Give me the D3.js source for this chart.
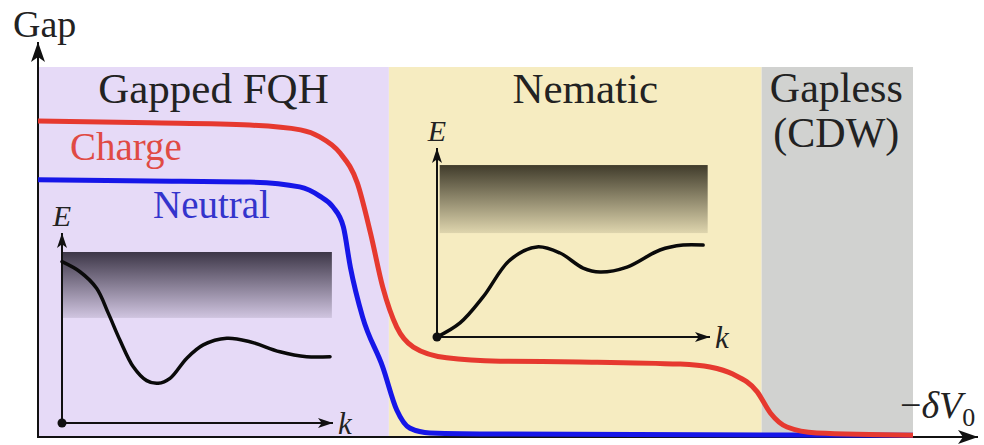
<!DOCTYPE html>
<html>
<head>
<meta charset="utf-8">
<script src="https://cdn.jsdelivr.net/npm/d3@7"></script>
<style>
  body { margin: 0; background: #fff; }
  svg { display: block; }
</style>
</head>
<body>
<svg id="chart" width="984" height="445"></svg>
<script>
// ---- data ----
var regionNames = ["Gapped FQH", "Nematic", "Gapless"];
var regionStart = [0, 40.1, 82.7];
var regionEnd   = [40.1, 82.7, 100];

var chargeX   = [0, 12.8, 24.2, 30.0, 32.2, 34.5, 36.5, 38.0, 39.4, 41.0, 42.9, 46.7, 52.8, 61.9, 73.4, 76.8, 79.4, 82.2, 83.7, 85.6, 89.0, 100];
var chargeGap = [8.54, 8.49, 8.43, 8.30, 8.11, 7.68, 6.86, 5.51, 4.05, 2.97, 2.43, 2.14, 2.05, 2.03, 1.97, 1.89, 1.70, 1.22, 0.65, 0.27, 0.11, 0.05];

var neutralX   = [0, 12.8, 24.2, 29.9, 32.2, 33.7, 34.9, 35.7, 37.1, 39.4, 41.0, 42.5, 44.8, 52.8, 100];
var neutralGap = [6.95, 6.92, 6.89, 6.76, 6.51, 6.22, 5.68, 4.59, 3.24, 1.89, 0.73, 0.24, 0.11, 0.08, 0.05];

// inset dispersions E(k)
var fqhK = [0, 0.67, 1.29, 1.73, 2.16, 2.66, 3.16, 3.59, 4.03, 4.65, 5.27, 6.15, 7.01, 8.13, 9.13, 10];
var fqhE = [8.49, 7.96, 7.09, 5.77, 4.37, 2.96, 2.23, 2.09, 2.35, 3.40, 4.11, 4.46, 4.28, 3.75, 3.49, 3.49];
var fqhBand = [5.53, 9.0];

var nemK = [0, 0.86, 1.72, 2.72, 3.73, 4.59, 5.45, 6.08, 7.09, 8.32, 9.18, 9.93];
var nemE = [0, 0.74, 2.11, 4.05, 4.74, 4.42, 3.63, 3.42, 3.68, 4.58, 4.84, 4.84];
var nemBand = [5.47, 9.05];

// ---- styles ----
var regionFill = ["#e6daf7", "#f6ecc1", "#d1d2d0"];
var chargeColor = "#e6392f", neutralColor = "#1616e8";
var serif = "'Liberation Serif', 'Times New Roman', Times, serif";

var svg = d3.select("#chart");

var x = d3.scaleLinear().domain([0, 100]).range([38, 913]);
var y = d3.scaleLinear().domain([0, 10]).range([437, 67]);

function label(px, py, txt, size, color) {
  return svg.append("text")
      .attr("x", px).attr("y", py)
      .attr("font-family", serif)
      .attr("font-size", size)
      .attr("fill", color || "#222")
      .text(txt);
}

// arrow markers
var defs = svg.append("defs");
function arrow(id, len, wid) {
  defs.append("marker")
      .attr("id", id)
      .attr("viewBox", "0 0 " + len + " " + wid)
      .attr("refX", len).attr("refY", wid / 2)
      .attr("markerWidth", len).attr("markerHeight", wid)
      .attr("markerUnits", "userSpaceOnUse")
      .attr("orient", "auto")
    .append("path")
      .attr("d", "M0,0 L" + len + "," + (wid / 2) + " L0," + wid + " L" + (len * 0.25) + "," + (wid / 2) + "Z")
      .attr("fill", "#111");
}
arrow("bigArrow", 20, 14);
arrow("smallArrow", 15, 10);

function bandGradient(id, color) {
  var g = defs.append("linearGradient").attr("id", id)
      .attr("x1", 0).attr("y1", 0).attr("x2", 0).attr("y2", 1);
  g.append("stop").attr("offset", "0%").attr("stop-color", color).attr("stop-opacity", 0.92);
  g.append("stop").attr("offset", "100%").attr("stop-color", color).attr("stop-opacity", 0.12);
}
bandGradient("gradFqh", "#2e2838");
bandGradient("gradNem", "#302c1e");

// phase regions
var regions = regionNames.map(function(n, i) {
  return {name: n, x0: regionStart[i], x1: regionEnd[i], fill: regionFill[i]};
});
svg.selectAll("rect.region")
    .data(regions)
  .enter().append("rect")
    .attr("class", "region")
    .attr("x", function(d) { return x(d.x0); })
    .attr("y", y(10))
    .attr("width", function(d) { return x(d.x1) - x(d.x0); })
    .attr("height", y(0) - y(10))
    .style("fill", function(d) { return d.fill; });

// region labels
label((x(0) + x(40.1)) / 2, 103, regionNames[0], 43).attr("text-anchor", "middle");
label((x(40.1) + x(82.7)) / 2 + 10, 103, regionNames[1], 43).attr("text-anchor", "middle");
label((x(82.7) + x(100)) / 2 - 1, 102, regionNames[2], 42).attr("text-anchor", "middle");
label((x(82.7) + x(100)) / 2 - 1, 147, "(CDW)", 42).attr("text-anchor", "middle");

// insets
function inset(opts) {
  var kx = d3.scaleLinear().domain([0, 10]).range([opts.ox, opts.ox + 268]);
  var ey = d3.scaleLinear().domain([0, 10]).range([opts.oy, opts.oy - 190]);
  var g = svg.append("g");

  g.append("rect")
      .attr("x", kx(opts.bandK[0])).attr("y", ey(opts.band[1]))
      .attr("width", kx(opts.bandK[1]) - kx(opts.bandK[0]))
      .attr("height", ey(opts.band[0]) - ey(opts.band[1]))
      .style("fill", "url(#" + opts.grad + ")");

  g.append("line")
      .attr("x1", kx(0)).attr("y1", ey(0)).attr("x2", kx(0)).attr("y2", ey(0) - opts.eLen)
      .attr("stroke", "#111").attr("stroke-width", 2).attr("marker-end", "url(#smallArrow)");
  g.append("line")
      .attr("x1", kx(0)).attr("y1", ey(0)).attr("x2", kx(0) + opts.kLen).attr("y2", ey(0))
      .attr("stroke", "#111").attr("stroke-width", 2).attr("marker-end", "url(#smallArrow)");

  var pts = opts.k.map(function(k, i) { return [k, opts.e[i]]; });
  g.append("path")
      .datum(pts)
      .attr("d", d3.line().x(function(d) { return kx(d[0]); }).y(function(d) { return ey(d[1]); })
                 .curve(d3.curveCatmullRom.alpha(0.5)))
      .attr("fill", "none").attr("stroke", "#0a0a0a").attr("stroke-width", 3.5)
      .attr("stroke-linecap", "round");

  g.append("circle").attr("cx", kx(0)).attr("cy", ey(0)).attr("r", 4.5).attr("fill", "#111");

  g.append("text").attr("x", kx(0)).attr("y", ey(0) - opts.eLen - 7)
      .attr("text-anchor", "middle").attr("font-family", serif).attr("font-size", 30)
      .attr("font-style", "italic").attr("fill", "#222").text("E");
  g.append("text").attr("x", kx(0) + opts.kLen + 5).attr("y", ey(0) + 11)
      .attr("font-family", serif).attr("font-size", 31)
      .attr("font-style", "italic").attr("fill", "#222").text("k");
}

inset({ox: 62, oy: 423, k: fqhK, e: fqhE, band: fqhBand, bandK: [0, 10.07], grad: "gradFqh", eLen: 190, kLen: 271});
inset({ox: 437, oy: 337, k: nemK, e: nemE, band: nemBand, bandK: [0.1, 10.1], grad: "gradNem", eLen: 189, kLen: 273});

// main axes
svg.append("line")
    .attr("x1", x(0)).attr("y1", y(0)).attr("x2", 978).attr("y2", y(0))
    .attr("stroke", "#111").attr("stroke-width", 2).attr("marker-end", "url(#bigArrow)");
svg.append("line")
    .attr("x1", x(0)).attr("y1", y(0) + 1).attr("x2", x(0)).attr("y2", 42)
    .attr("stroke", "#111").attr("stroke-width", 2).attr("marker-end", "url(#bigArrow)");

// gap curves
var line = d3.line()
    .x(function(d) { return x(d[0]); })
    .y(function(d) { return y(d[1]); })
    .curve(d3.curveMonotoneX);

svg.append("path")
    .datum(neutralX.map(function(v, i) { return [v, neutralGap[i]]; }))
    .attr("d", line)
    .attr("fill", "none").attr("stroke", neutralColor).attr("stroke-width", 5);

svg.append("path")
    .datum(chargeX.map(function(v, i) { return [v, chargeGap[i]]; }))
    .attr("d", line)
    .attr("fill", "none").attr("stroke", chargeColor).attr("stroke-width", 5);

// curve labels
label(70, 160, "Charge", 39, "#e04a44");
label(153, 218, "Neutral", 39, "#3434cc");

// axis labels
label(13, 37, "Gap", 38);
var xl = label(900, 418, "", 38);
xl.append("tspan").text("\u2212");
xl.append("tspan").attr("font-style", "italic").text("\u03B4V");
xl.append("tspan").attr("dy", 8).attr("font-size", 26).text("0");
</script>
</body>
</html>
